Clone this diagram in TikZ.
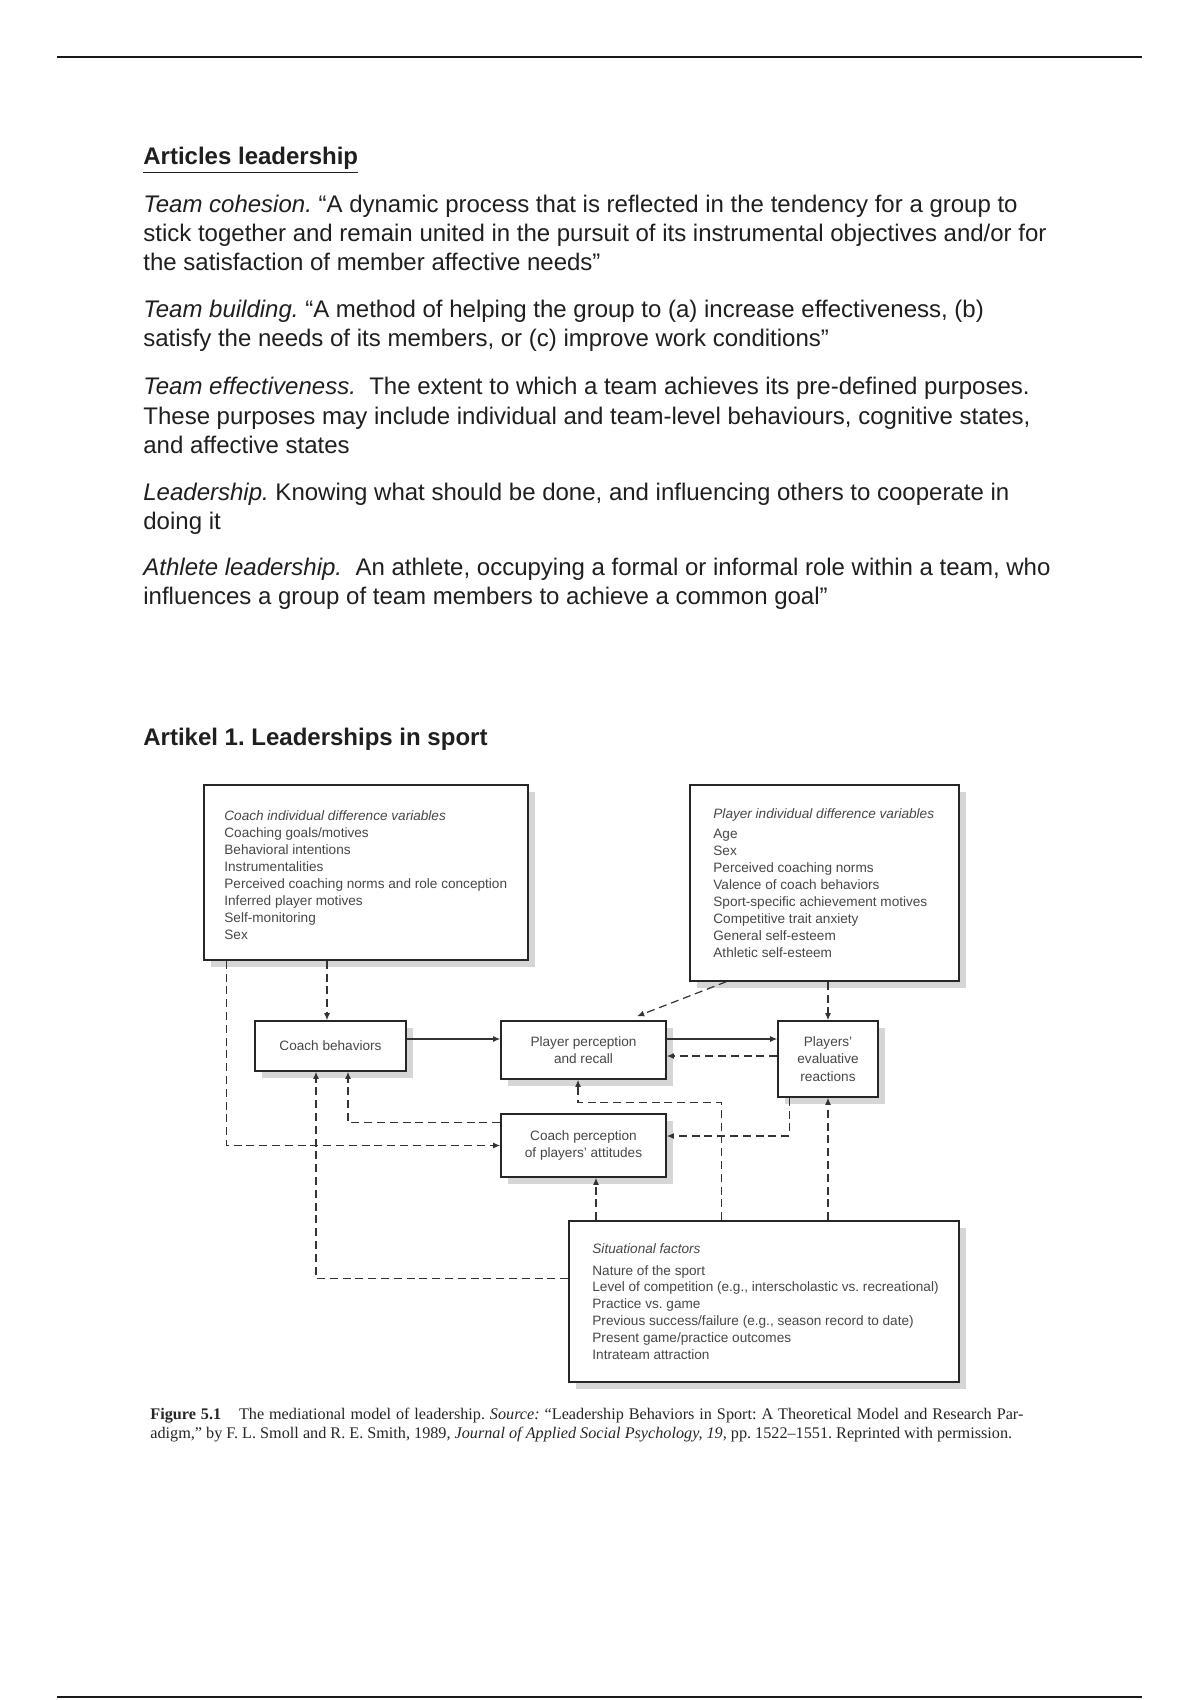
\documentclass[tikz,border=0pt]{standalone}
\usepackage{fontspec}
\setmainfont{Liberation Sans}
\newfontfamily\capfont{Liberation Serif}
\usetikzlibrary{arrows.meta,shadows}
\frenchspacing
\begin{document}
\begin{tikzpicture}[x=0.5pt,y=-0.5pt,
 bodytext/.style={anchor=base west, inner sep=0pt, font=\frenchspacing\fontsize{12}{14}\selectfont, text=black!88},
 captext/.style={anchor=base west, inner sep=0pt, font=\frenchspacing\capfont\fontsize{8.1}{9}\selectfont, text=black!85},
 dtext/.style={anchor=base west, inner sep=0pt, font=\fontsize{6.8}{8.5}\selectfont, text=black!72},
 bigbox/.style={draw=black!85, line width=0.75pt, fill=white, inner sep=0pt,
   drop shadow={shadow xshift=3.5pt, shadow yshift=-3.5pt, fill=black!16, opacity=1}},
 smallbox/.style={bigbox, align=center, font=\fontsize{6.8}{8.8}\selectfont, text=black!72},
 conn/.style={draw=black!80, line width=0.6pt},
 dconn/.style={conn, dash pattern=on 4pt off 2.4pt, -{Latex[length=3.6pt,width=3pt]}},
 sconn/.style={conn, -{Latex[length=3.6pt,width=3pt]}},
]
\useasboundingbox[fill=white] (0,0) rectangle (1200,1700);
\coordinate (rtl) at (57,57.5);
\coordinate (rtr) at (1142,57.5);
\coordinate (rbl) at (57,1697);
\coordinate (rbr) at (1142,1697);
\draw[line width=1pt, black!90] (rtl) -- (rtr);
\draw[line width=1pt, black!90] (rbl) -- (rbr);

% ---------- text ----------
\node[bodytext, font=\frenchspacing\bfseries\fontsize{12}{14}\selectfont] (h1) at (143,165) {\underline{Articles leadership}};
\node[bodytext] (l1) at (143,213) {\textit{Team cohesion.} “A dynamic process that is reflected in the tendency for a group to};
\node[bodytext] (l2) at (143,242) {stick together and remain united in the pursuit of its instrumental objectives and/or for};
\node[bodytext] (l3) at (143,271) {the satisfaction of member affective needs”};
\node[bodytext] (l4) at (143,318) {\textit{Team building.} “A method of helping the group to (a) increase effectiveness, (b)};
\node[bodytext] (l5) at (143,347) {satisfy the needs of its members, or (c) improve work conditions”};
\node[bodytext] (l6) at (143,395) {\textit{Team effectiveness.}\ \ The extent to which a team achieves its pre-defined purposes.};
\node[bodytext] (l7) at (143,424) {These purposes may include individual and team-level behaviours, cognitive states,};
\node[bodytext] (l8) at (143,453) {and affective states};
\node[bodytext] (l9) at (143,500) {\textit{Leadership.} Knowing what should be done, and influencing others to cooperate in};
\node[bodytext] (l10) at (143,529) {doing it};
\node[bodytext] (l11) at (143,575) {\textit{Athlete leadership.}\ \ An athlete, occupying a formal or informal role within a team, who};
\node[bodytext] (l12) at (143,604) {influences a group of team members to achieve a common goal”};
\node[bodytext, font=\frenchspacing\bfseries\fontsize{12}{14}\selectfont] (h2) at (143,745) {Artikel 1. Leaderships in sport};

% ---------- boxes ----------
\node[bigbox, minimum width=162pt, minimum height=87.5pt] (cv) at (366,872.5) {};
\node[bigbox, minimum width=134.5pt, minimum height=98pt] (pv) at (824.5,883) {};
\node[bigbox, minimum width=195pt, minimum height=80.5pt] (sf) at (764,1301.5) {};
\node[smallbox, minimum width=75.5pt, minimum height=25pt] (cb) at (330.5,1046) {Coach behaviors};
\node[smallbox, minimum width=82.5pt, minimum height=29pt] (pp) at (583.5,1050) {Player perception\\and recall};
\node[smallbox, minimum width=50pt, minimum height=38pt] (pe) at (828,1059) {Players’\\evaluative\\reactions};
\node[smallbox, minimum width=82.5pt, minimum height=31.5pt] (cp) at (583.5,1145.5) {Coach perception\\of players’ attitudes};

% box texts
\node[dtext] (cvh) at (224,820) {\itshape Coach individual difference variables};
\foreach \t [count=\i from 0] in {{Coaching goals/motives},{Behavioral intentions},{Instrumentalities},{Perceived coaching norms and role conception},{Inferred player motives},{Self-monitoring},{Sex}}
  \node[dtext] (cvl\i) at (224,837+17*\i) {\t};
\node[dtext] (pvh) at (713,818) {\itshape Player individual difference variables};
\foreach \t [count=\i from 0] in {{Age},{Sex},{Perceived coaching norms},{Valence of coach behaviors},{Sport-specific achievement motives},{Competitive trait anxiety},{General self-esteem},{Athletic self-esteem}}
  \node[dtext] (pvl\i) at (713,838+17.1*\i) {\t};
\node[dtext] (sfh) at (592,1253) {\itshape Situational factors};
\foreach \t [count=\i from 0] in {{Nature of the sport},{Level of competition (e.g., interscholastic vs. recreational)},{Practice vs. game},{Previous success/failure (e.g., season record to date)},{Present game/practice outcomes},{Intrateam attraction}}
  \node[dtext] (sfl\i) at (592,1275+16.8*\i) {\t};

% ---------- connectors ----------
\draw[dconn] ([xshift=-1.75pt]cb.north |- cv.south) -- ([xshift=-1.75pt]cb.north);
\draw[dconn] ([xshift=11.5pt]cv.south west) |- (cp.west);
\draw[sconn] ([yshift=3.5pt]cb.east) -- ([yshift=3.5pt]cb.east -| pp.west);
\draw[sconn] ([yshift=5.5pt]pp.east) -- ([yshift=5.5pt]pp.east -| pe.west);
\draw[dconn] ([yshift=-3pt]pp.east -| pe.west) -- ([yshift=-3pt]pp.east);
\draw[dconn] ([xshift=18.5pt]pv.south west) -- ([xshift=26.75pt,yshift=2pt]pp.north);
\draw[dconn] (pv.south -| pe.north) -- (pe.north);
\draw[dconn] ([yshift=-4.5pt]cp.north west) -| ([xshift=8.75pt]cb.south);
\draw[dconn] ([yshift=-29pt]sf.north west) -| ([xshift=-7.25pt]cb.south);
\draw[dconn] ([xshift=76.5pt]sf.north west) |- ([xshift=-2.75pt,yshift=-11.5pt]pp.south) -- ([xshift=-2.75pt]pp.south);
\draw[dconn] ([xshift=6.25pt]cp.south |- sf.north) -- ([xshift=6.25pt]cp.south);
\draw[dconn] (sf.north -| pe.south) -- (pe.south);
\draw[dconn] ([xshift=6pt]pe.south west) |- ([yshift=4.75pt]cp.east);

% ---------- caption ----------
\node[captext] (cap1) at (150,1419) {\makebox[436.5pt][s]{\textbf{Figure 5.1}\hspace{1.1em}The mediational model of leadership. \textit{Source:} “Leadership Behaviors in Sport: A Theoretical Model and Research Par-}};
\node[captext] (cap2) at (150,1438) {adigm,” by F. L. Smoll and R. E. Smith, 1989, \textit{Journal of Applied Social Psychology, 19,} pp. 1522–1551. Reprinted with permission.};
\end{tikzpicture}
\end{document}
